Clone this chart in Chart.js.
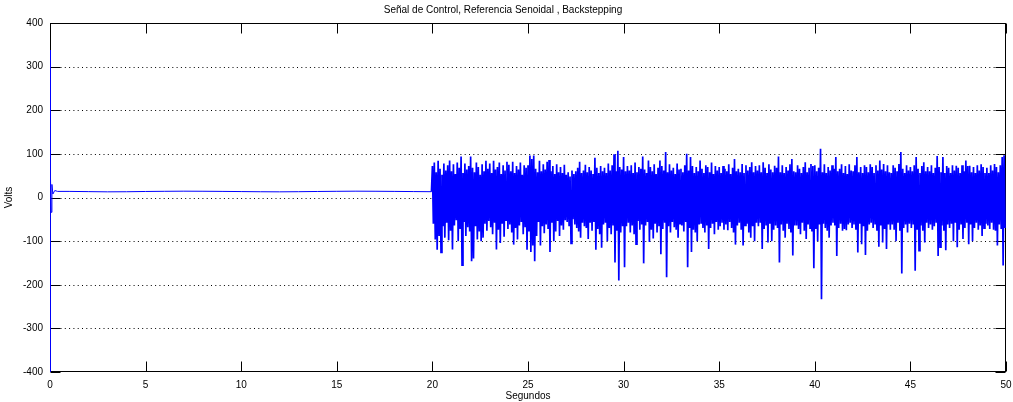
<!DOCTYPE html>
<html><head><meta charset="utf-8">
<script src="https://cdn.jsdelivr.net/npm/chart.js@4"></script>
<style>html,body{margin:0;padding:0;background:#fff}#wrap{width:1013px;height:402px}</style>
</head><body><div id="wrap"><canvas id="c" width="1013" height="402"></canvas></div>
<script>
const titleText = 'Señal de Control, Referencia Senoidal , Backstepping';
const xLabel = 'Segundos';
const yLabel = 'Volts';
const xTicks = [0, 5, 10, 15, 20, 25, 30, 35, 40, 45, 50];
const yTicks = [-400, -300, -200, -100, 0, 100, 200, 300, 400];

// 0–20 s: start-up transient then nearly constant control signal
const earlyTimes = [0, 0.01, 0.03, 0.06, 0.1, 0.15, 0.25, 0.4, 1, 2, 3, 4, 5, 6, 7, 8, 9, 10, 11, 12, 13, 14, 15, 16, 17, 18, 19, 19.95];
const earlyVolts = [338, -410, 58, -34, 30, 8, 16, 14, 14, 13.5, 13, 13.2, 13.8, 14.2, 14.5, 14.3, 14, 13.6, 13.2, 13, 13.3, 13.8, 14.2, 14.5, 14.3, 14, 13.6, 13.3];

// 20–50 s: noisy section, read as successive peaks / troughs (every 0.1 s)
const noiseStart = 20;
const noiseStep = 0.1;
const noisePeaks = [
 72, 80, 58, 84, 66, 52, 78, 62, 74, 85,
 60, 76, 54, 80, 68, 94, 56, 78, 64, 72,
 94, 68, 58, 80, 70, 52, 76, 60, 84, 66,
 78, 56, 84, 64, 70, 80, 54, 74, 62, 82,
 75, 60, 82, 56, 72, 64, 80, 52, 74, 68,
 74, 96, 88, 96, 66, 58, 84, 60, 76, 64,
 82, 86, 60, 72, 54, 76, 58, 70, 56, 75,
 52, 58, 48, 62, 54, 60, 68, 82, 56, 62,
 75, 58, 70, 62, 54, 91, 68, 56, 72, 60,
 68, 56, 78, 62, 74, 99, 60, 107, 70, 64,
 93, 60, 72, 62, 74, 56, 80, 58, 70, 66,
 94, 64, 56, 85, 70, 60, 76, 54, 68, 85,
 72, 62, 104, 58, 76, 62, 68, 54, 78, 64,
 66, 58, 74, 100, 62, 93, 72, 56, 70, 60,
 85, 66, 56, 74, 70, 58, 80, 54, 72, 62,
 70, 56, 72, 66, 60, 76, 54, 68, 88, 60,
 66, 58, 77, 56, 74, 62, 70, 81, 58, 72,
 62, 74, 58, 81, 68, 56, 76, 64, 58, 73,
 68, 94, 58, 74, 56, 70, 62, 76, 88, 60,
 58, 74, 66, 56, 70, 81, 58, 68, 77, 72,
 74, 60, 68, 112, 58, 76, 56, 70, 62, 74,
 66, 93, 60, 66, 76, 56, 72, 54, 76, 62,
 60, 74, 93, 58, 70, 56, 74, 70, 58, 76,
 70, 56, 74, 62, 85, 64, 77, 60, 74, 58,
 56, 74, 68, 60, 77, 104, 66, 56, 74, 62,
 70, 60, 74, 93, 66, 56, 72, 81, 60, 70,
 60, 74, 56, 68, 95, 70, 58, 93, 56, 72,
 68, 56, 74, 62, 73, 68, 56, 74, 60, 85,
 72, 73, 58, 70, 56, 74, 62, 76, 70, 56,
 68, 56, 74, 62, 77, 70, 58, 74, 93, 97
];
const noiseTroughs = [
 -60, -96, -120, -88, -126, -66, -92, -58, -98, -76,
 -119, -64, -52, -100, -72, -155, -56, -88, -68, -78,
 -146, -140, -66, -96, -78, -100, -92, -60, -76, -54,
 -68, -84, -58, -119, -74, -104, -60, -90, -52, -72,
 -62, -80, -108, -70, -96, -64, -56, -84, -68, -120,
 -78, -125, -110, -146, -88, -56, -110, -66, -82, -62,
 -72, -125, -58, -100, -78, -54, -88, -64, -74, -52,
 -56, -66, -105, -50, -62, -70, -78, -92, -58, -66,
 -70, -95, -58, -76, -56, -120, -72, -84, -115, -62,
 -58, -100, -70, -84, -64, -149, -76, -190, -80, -66,
 -160, -66, -58, -80, -64, -84, -107, -54, -74, -62,
 -151, -64, -56, -102, -74, -94, -60, -80, -66, -130,
 -72, -58, -183, -66, -80, -56, -68, -74, -92, -60,
 -64, -78, -56, -160, -70, -125, -74, -80, -100, -62,
 -58, -70, -80, -64, -118, -70, -60, -84, -56, -74,
 -66, -58, -74, -62, -75, -56, -70, -80, -108, -64,
 -58, -74, -110, -64, -60, -80, -92, -66, -100, -58,
 -66, -58, -118, -72, -64, -103, -60, -100, -74, -64,
 -70, -149, -62, -76, -92, -60, -72, -80, -133, -64,
 -64, -72, -84, -58, -76, -95, -62, -70, -78, -162,
 -72, -100, -62, -233, -60, -70, -76, -92, -64, -58,
 -64, -134, -70, -60, -76, -72, -75, -62, -58, -70,
 -62, -74, -126, -60, -107, -66, -132, -76, -62, -58,
 -70, -60, -76, -113, -64, -103, -72, -118, -62, -74,
 -62, -74, -100, -58, -76, -174, -70, -62, -80, -60,
 -70, -62, -168, -74, -122, -64, -76, -103, -58, -70,
 -62, -74, -66, -58, -134, -114, -64, -76, -121, -62,
 -70, -60, -100, -58, -114, -74, -62, -95, -70, -58,
 -107, -62, -100, -70, -58, -74, -64, -88, -70, -60,
 -64, -72, -58, -74, -76, -110, -62, -72, -156, -70
];

const earlyPoints = earlyTimes.map((t, i) => ({x: t, y: earlyVolts[i]}));
const noisePoints = [{x: earlyTimes[earlyTimes.length - 1], y: earlyVolts[earlyVolts.length - 1]}];
noisePeaks.forEach((v, i) => {
  const t = noiseStart + i * noiseStep;
  noisePoints.push({x: t, y: v});
  noisePoints.push({x: t + noiseStep / 2, y: noiseTroughs[i]});
});

const FONT = '"Liberation Sans", Arial, Helvetica, sans-serif';
const TICK_LEN = 10;

const framePlugin = {
  id: 'frame',
  beforeDatasetsDraw(chart) {
    const {ctx, chartArea: a, scales: {x, y}} = chart;
    const L = Math.round(a.left) + 0.5, R = Math.round(a.right) - 0.5;
    const T = Math.round(a.top) + 0.5, B = Math.round(a.bottom) - 0.5;
    ctx.save();
    ctx.strokeStyle = '#000';
    ctx.lineWidth = 1;
    ctx.setLineDash([1, 3.3]);
    y.ticks.forEach(t => {
      if (t.value <= y.min || t.value >= y.max) return;
      const py = Math.round(y.getPixelForValue(t.value)) + 0.5;
      ctx.beginPath(); ctx.moveTo(L + TICK_LEN, py); ctx.lineTo(R - TICK_LEN, py); ctx.stroke();
    });
    ctx.setLineDash([]);
    ctx.strokeRect(L, T, R - L, B - T);
    ctx.beginPath();
    x.ticks.forEach(t => {
      const px = Math.round(x.getPixelForValue(t.value)) + 0.5;
      ctx.moveTo(px, B); ctx.lineTo(px, B - TICK_LEN);
      ctx.moveTo(px, T); ctx.lineTo(px, T + TICK_LEN);
    });
    y.ticks.forEach(t => {
      const py = Math.round(y.getPixelForValue(t.value)) + 0.5;
      ctx.moveTo(L, py); ctx.lineTo(L + TICK_LEN, py);
      ctx.moveTo(R, py); ctx.lineTo(R - TICK_LEN, py);
    });
    ctx.stroke();
    ctx.restore();
  }
};

new Chart(document.getElementById('c'), {
  type: 'line',
  data: {
    datasets: [{
      data: earlyPoints,
      borderColor: '#0000ff',
      borderWidth: 1,
      pointRadius: 0,
      tension: 0,
      fill: false
    }, {
      data: noisePoints,
      borderColor: '#0000ff',
      borderWidth: 1.7,
      pointRadius: 0,
      tension: 0,
      fill: false
    }]
  },
  options: {
    responsive: false,
    animation: false,
    devicePixelRatio: 1,
    layout: {padding: {left: 0, right: 7, top: 0, bottom: 0}},
    plugins: {
      legend: {display: false},
      tooltip: {enabled: false},
      title: {
        display: true, text: titleText, color: '#000',
        font: {family: FONT, size: 10, weight: 'normal'},
        padding: {top: 4, bottom: 7}
      }
    },
    scales: {
      x: {
        type: 'linear', min: 0, max: 50,
        afterBuildTicks: s => { s.ticks = xTicks.map(v => ({value: v})); },
        afterFit: s => { s.height = 30; s.paddingLeft = 0; s.paddingRight = 0; },
        grid: {display: false, drawTicks: false},
        border: {display: false},
        ticks: {color: '#000', font: {family: FONT, size: 10}, padding: 7, maxRotation: 0},
        title: {display: true, text: xLabel, color: '#000', font: {family: FONT, size: 10}, padding: 0}
      },
      y: {
        type: 'linear', min: -400, max: 400,
        afterBuildTicks: s => { s.ticks = yTicks.map(v => ({value: v})); },
        afterFit: s => { s.width = 50; s.paddingTop = 0; s.paddingBottom = 0; },
        grid: {display: false, drawTicks: false},
        border: {display: false},
        ticks: {color: '#000', font: {family: FONT, size: 10}, padding: 7},
        title: {display: true, text: yLabel, color: '#000', font: {family: FONT, size: 10}, padding: {top: 3, bottom: 0}}
      }
    }
  },
  plugins: [framePlugin]
});
</script>
</body></html>
